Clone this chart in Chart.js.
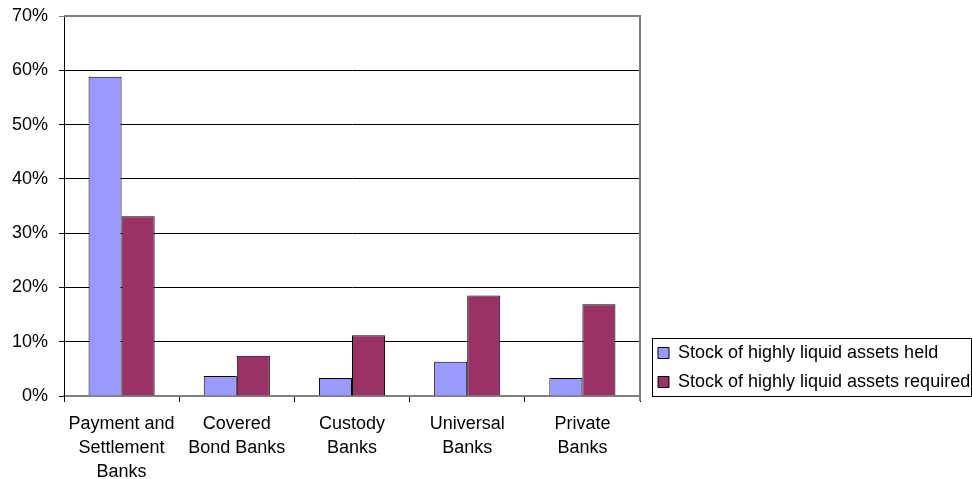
<!DOCTYPE html>
<html>
<head>
<meta charset="utf-8">
<script src="https://cdn.jsdelivr.net/npm/chart.js@4.4.1/dist/chart.umd.min.js"></script>
<style>
  html, body { margin: 0; padding: 0; background: #fff; }
  #wrap { width: 972px; height: 479px; }
</style>
</head>
<body>
<div id="wrap"><canvas id="liquidity-chart" width="972" height="479"></canvas></div>
<script>
const categories = [
    ['Payment and', 'Settlement', 'Banks'],
    ['Covered', 'Bond Banks'],
    ['Custody', 'Banks'],
    ['Universal', 'Banks'],
    ['Private', 'Banks']
];
const heldValues = [58.8, 3.7, 3.3, 6.3, 3.3];
const requiredValues = [33.1, 7.4, 11.2, 18.5, 16.9];
const yTicks = [0, 10, 20, 30, 40, 50, 60, 70];

const font = { family: 'Liberation Sans, Arial, sans-serif', size: 18 };

// move the legend down next to the bottom of the plot, a bit right of it
const legendPlacePlugin = {
    id: 'legendPlace',
    afterLayout(chart) {
        const lg = chart.legend;
        const w = lg.width;
        lg.left = chart.chartArea.right + 7;
        lg.right = lg.left + w;
        lg.bottom = chart.chartArea.bottom + 6;
        lg.height = lg.bottom - lg.top;
    }
};

// grey frame on top and right of plot area + box round the legend
const framePlugin = {
    id: 'frame',
    afterDraw(chart) {
        const ctx = chart.ctx;
        const a = chart.chartArea;
        ctx.save();
        ctx.strokeStyle = '#808080';
        ctx.lineWidth = 2;
        ctx.beginPath();
        ctx.moveTo(a.left, a.top);
        ctx.lineTo(a.right, a.top);
        ctx.lineTo(a.right, a.bottom + 5);
        ctx.stroke();

        const boxes = chart.legend.legendHitBoxes;
        if (boxes && boxes.length) {
            let l = Infinity, t = Infinity, r = -Infinity, b = -Infinity;
            boxes.forEach(h => {
                l = Math.min(l, h.left); t = Math.min(t, h.top);
                r = Math.max(r, h.left + h.width); b = Math.max(b, h.top + h.height);
            });
            const x0 = Math.round(l - 6) + 0.5;
            const y0 = Math.round(t - 6) + 0.5;
            const x1 = Math.min(Math.round(r + 1), chart.width - 1) + 0.5;
            const y1 = Math.round(b + 5) + 0.5;
            ctx.strokeStyle = '#000';
            ctx.lineWidth = 1;
            ctx.strokeRect(x0, y0, x1 - x0, y1 - y0);
        }
        ctx.restore();
    }
};

const config = {
    type: 'bar',
    data: {
        labels: categories,
        datasets: [{
            label: 'Stock of highly liquid assets held',
            data: heldValues,
            backgroundColor: '#9999FF',
            borderColor: '#000',
            borderWidth: 1,
            categoryPercentage: 0.574,
            barPercentage: 1
        }, {
            label: 'Stock of highly liquid assets required',
            data: requiredValues,
            backgroundColor: '#993366',
            borderColor: '#000',
            borderWidth: 1,
            categoryPercentage: 0.574,
            barPercentage: 1
        }]
    },
    options: {
        responsive: false,
        animation: false,
        layout: { padding: 0 },
        plugins: {
            legend: {
                position: 'right',
                align: 'end',
                maxWidth: 332,
                labels: {
                    font: font,
                    color: '#000',
                    boxWidth: 11,
                    boxHeight: 11,
                    padding: 11,
                    useBorderRadius: false
                }
            },
            tooltip: { enabled: false }
        },
        scales: {
            x: {
                offset: true,
                grid: {
                    offset: true,
                    drawOnChartArea: false,
                    color: '#000',
                    tickLength: 6
                },
                border: { color: '#808080', width: 2 },
                ticks: { font: { ...font, lineHeight: 1.333 }, color: '#000', padding: 10, maxRotation: 0 },
                afterFit(scale) { scale.height = 83; }
            },
            y: {
                min: 0,
                max: 70,
                afterBuildTicks(scale) { scale.ticks = yTicks.map(v => ({ value: v })); },
                grid: {
                    color: ctx => (ctx.tick && ctx.tick.value === 70) ? '#808080' : '#000',
                    tickLength: 5
                },
                border: { color: '#000', width: 1 },
                ticks: { font: font, color: '#000', padding: 11, callback: v => v + '%' },
                afterFit(scale) { scale.width = 64; scale.paddingTop = 16; scale.paddingBottom = 0; }
            }
        }
    },
    plugins: [legendPlacePlugin, framePlugin]
};

new Chart(document.getElementById('liquidity-chart'), config);
</script>
</body>
</html>
